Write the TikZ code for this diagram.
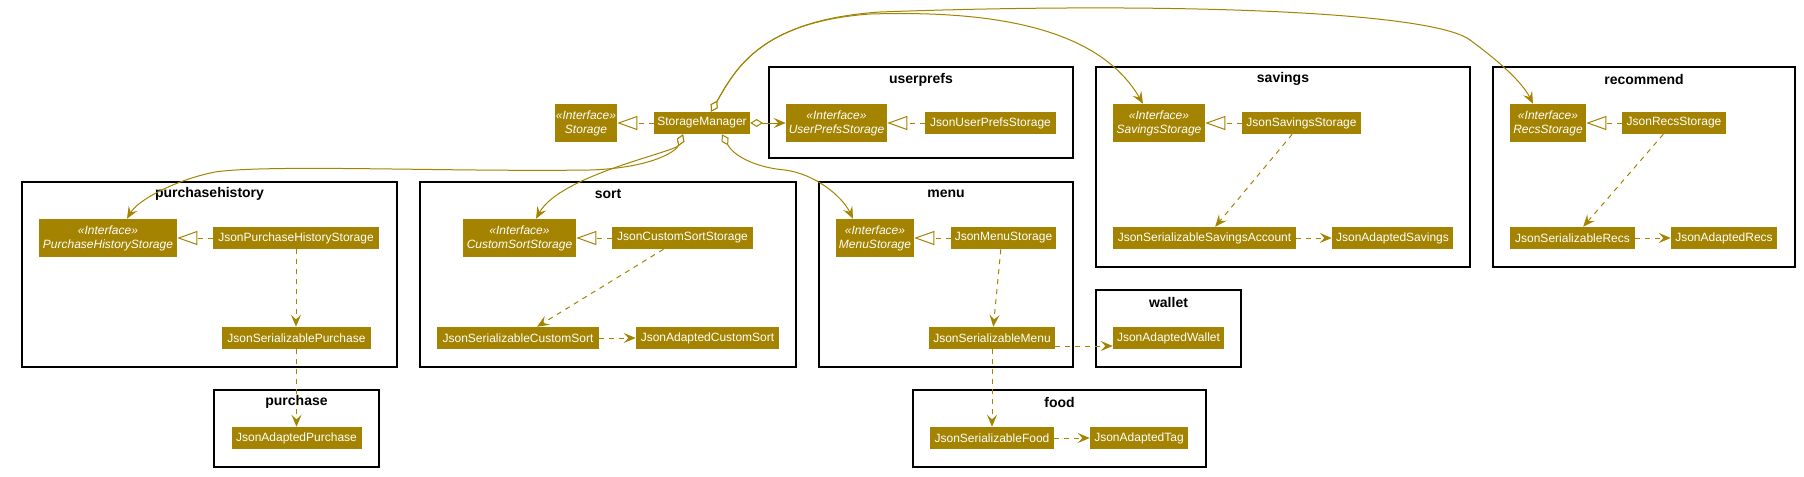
\documentclass[tikz,border=0pt]{standalone}
\usepackage{fontspec}
\setmainfont{Liberation Sans}
\usetikzlibrary{arrows.meta}
\definecolor{gold}{HTML}{A38300}
\begin{document}
\begin{tikzpicture}[x=0.75pt,y=-0.75pt,
  w/.style={minimum width={#1*0.75pt}},
  h/.style={minimum height={#1*0.75pt}},
  cls/.style={fill=gold, text=white, inner sep=0pt, font=\fontsize{9}{10.5}\selectfont, minimum height=16.5pt},
  ifc/.style={fill=gold, text=white, inner sep=0pt, align=center, font=\fontsize{9}{10.5}\selectfont\itshape, minimum height=28.5pt},
  pkg/.style={draw=black, line width=1.1pt, inner sep=0pt},
  pkglabel/.style={font=\fontsize{10.5}{12}\selectfont\bfseries, inner sep=0pt},
  dep/.style={draw=gold, line width=0.75pt, dash pattern=on 3.75pt off 3.75pt, -{Stealth[length=9pt,width=7.5pt,inset=3.5pt]}},
  real/.style={draw=gold, line width=0.75pt, dash pattern=on 3.75pt off 3.75pt, -{Triangle[fill=white,length=15pt,width=10.5pt]}},
  agg/.style={draw=gold, line width=0.75pt, {Diamond[fill=white,length=9.5pt,width=6pt]}-{Stealth[length=9pt,width=7.5pt,inset=3.5pt]}}
]
\useasboundingbox (0,0) rectangle (1804,476);

% packages
\node[pkg, w=304, h=91]  (pUser) at (921,112.5) {};
\node[pkg, w=375, h=185] (pPH)   at (209.5,274.5) {};
\node[pkg, w=165, h=77]  (pPur)  at (296.5,428.5) {};
\node[pkg, w=376, h=185] (pSort) at (608,274.5) {};
\node[pkg, w=254, h=185] (pMenu) at (946,274.5) {};
\node[pkg, w=145, h=77]  (pWal)  at (1168.5,328.5) {};
\node[pkg, w=293, h=77]  (pFood) at (1059.5,428.5) {};
\node[pkg, w=374, h=200] (pSav)  at (1283,167) {};
\node[pkg, w=302, h=200] (pRec)  at (1644,167) {};

\node[pkglabel] (lUser) at (921,80) {userprefs};
\node[pkglabel] (lPH)   at (209.5,194) {purchasehistory};
\node[pkglabel] (lPur)  at (296.5,402) {purchase};
\node[pkglabel] (lSort) at (608,194) {sort};
\node[pkglabel] (lMenu) at (946,194) {menu};
\node[pkglabel] (lWal)  at (1168.5,302) {wallet};
\node[pkglabel] (lFood) at (1059.5,402) {food};
\node[pkglabel] (lSav)  at (1283,79) {savings};
\node[pkglabel] (lRec)  at (1644,79) {recommend};

% classes
\node[ifc, w=62]  (st)   at (586,123) {«Interface»\\Storage};
\node[cls, w=96]  (sm)   at (702,123) {StorageManager};
\node[ifc, w=101] (ups)  at (836.5,123) {«Interface»\\UserPrefsStorage};
\node[cls, w=131] (jups) at (990.5,123) {JsonUserPrefsStorage};

\node[ifc, w=138] (phs)  at (108,238) {«Interface»\\PurchaseHistoryStorage};
\node[cls, w=166] (jphs) at (296,238) {JsonPurchaseHistoryStorage};
\node[cls, w=149] (jsp)  at (296.5,338) {JsonSerializablePurchase};
\node[cls, w=130] (jap)  at (296.5,438) {JsonAdaptedPurchase};

\node[ifc, w=113] (css)  at (519.5,238) {«Interface»\\CustomSortStorage};
\node[cls, w=141] (jcss) at (682.5,238) {JsonCustomSortStorage};
\node[cls, w=162] (jscs) at (518,338) {JsonSerializableCustomSort};
\node[cls, w=143] (jacs) at (707.5,338) {JsonAdaptedCustomSort};

\node[ifc, w=78]  (ms)   at (875,238) {«Interface»\\MenuStorage};
\node[cls, w=105] (jms)  at (1003.5,238) {JsonMenuStorage};
\node[cls, w=126] (jsm)  at (992,338) {JsonSerializableMenu};
\node[cls, w=111] (jaw)  at (1168.5,338) {JsonAdaptedWallet};
\node[cls, w=124] (jsf)  at (992,438) {JsonSerializableFood};
\node[cls, w=98]  (jat)  at (1139,438) {JsonAdaptedTag};

\node[ifc, w=92]  (ss)   at (1159,123) {«Interface»\\SavingsStorage};
\node[cls, w=119] (jss)  at (1301.5,123) {JsonSavingsStorage};
\node[cls, w=183] (jssa) at (1204.5,238) {JsonSerializableSavingsAccount};
\node[cls, w=121] (jas)  at (1392.5,238) {JsonAdaptedSavings};

\node[ifc, w=76]  (rs)   at (1548,123) {«Interface»\\RecsStorage};
\node[cls, w=104] (jrs)  at (1674,123) {JsonRecsStorage};
\node[cls, w=125] (jsr)  at (1572.5,238) {JsonSerializableRecs};
\node[cls, w=106] (jar)  at (1724,238) {JsonAdaptedRecs};

% realizations
\draw[real] (sm.west) -- (st.east);
\draw[real] (jups.west) -- (ups.east);
\draw[real] (jphs.west) -- (phs.east);
\draw[real] (jcss.west) -- (css.east);
\draw[real] (jms.west) -- (ms.east);
\draw[real] (jss.west) -- (ss.east);
\draw[real] (jrs.west) -- (rs.east);

% dependencies
\draw[dep] (jphs.south) -- (jphs.south |- jsp.north);
\draw[dep] (jsp.south) -- (jsp.south |- jap.north);
\draw[dep] ([xshift=-14.25pt]jcss.south) -- ([xshift=14.25pt]jscs.north);
\draw[dep] (jscs.east) -- (jacs.west);
\draw[dep] ([xshift=-2pt]jms.south) -- ([xshift=1pt]jsm.north);
\draw[dep] ([yshift=-6pt]jsm.east) -- ([yshift=-6pt]jaw.west);
\draw[dep] (jsm.south) -- (jsm.south |- jsf.north);
\draw[dep] (jsf.east) -- (jat.west);
\draw[dep] ([xshift=-7pt]jss.south) -- ([xshift=8pt]jssa.north);
\draw[dep] (jssa.east) -- (jas.west);
\draw[dep] ([xshift=-8pt]jrs.south) -- ([xshift=8pt]jsr.north);
\draw[dep] (jsr.east) -- (jar.west);

% aggregations
\draw[agg] (sm.east) -- (ups.west);
\draw[agg] ([xshift=6.75pt]sm.north) .. controls (735,70) and (760,22) .. (870,14)
  .. controls (1000,10) and (1100,30) .. ([xshift=-12pt]ss.north);
\draw[agg] ([xshift=6.75pt]sm.north) .. controls (735,70) and (760,20) .. (880,12)
  .. controls (1150,2) and (1430,10) .. (1470,40)
  .. controls (1500,62) and (1522,82) .. ([xshift=-11.25pt]rs.north);
\draw[agg] ([xshift=-14.25pt]sm.south) .. controls (676,152) and (650,168) .. (590,170)
  .. controls (450,172) and (270,164) .. (215,172)
  .. controls (175,180) and (138,200) .. ([xshift=14.25pt]phs.north);
\draw[agg] ([xshift=-14.25pt]sm.south) .. controls (676,152) and (560,175) .. ([xshift=12.4pt]css.north);
\draw[agg] ([xshift=15pt]sm.south) .. controls (735,158) and (760,168) .. (785,170)
  .. controls (815,174) and (842,196) .. ([xshift=-16.5pt]ms.north);
\end{tikzpicture}
\end{document}
